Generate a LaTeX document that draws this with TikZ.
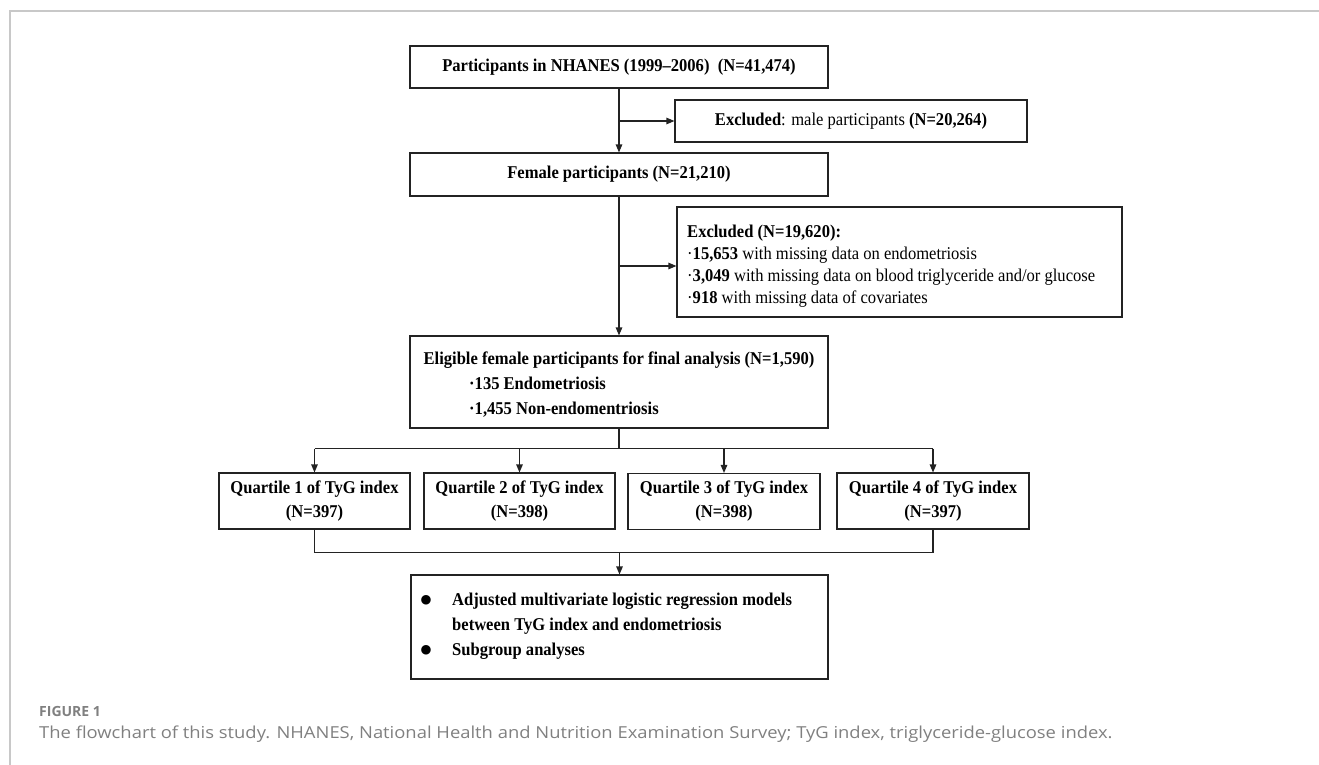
\documentclass[tikz,border=0pt]{standalone}
\usepackage{fontspec}
\setmainfont{Liberation Serif}[FakeStretch=0.92]
\newfontfamily\capfont{Open Sans}[FakeStretch=1.115]
\newfontfamily\figfont{Open Sans}
\newfontfamily\symfont{DejaVu Sans}
\usetikzlibrary{arrows.meta}
\definecolor{ln}{RGB}{35,35,35}
\definecolor{framegray}{RGB}{200,200,200}
\definecolor{capgray}{RGB}{128,128,128}
\begin{document}
\begin{tikzpicture}[x=1pt,y=-1pt,
  box/.style={draw=ln, line width=1.1pt, inner sep=0pt, fill=white},
  bt/.style={inner sep=0pt, font=\fontsize{18}{24}\selectfont\bfseries},
  rt/.style={inner sep=0pt, anchor=base west, font=\fontsize{18}{22}\selectfont},
  con/.style={draw=ln, line width=1.1pt},
  arr/.style={con, -{Triangle[length=8pt,width=6.5pt]}},
  bul/.style={inner sep=0pt, font=\fontsize{12.5}{12.5}\selectfont\symfont},
  capt/.style={inner sep=0pt, anchor=base west, text=capgray}
]
\useasboundingbox (0,0) rectangle (1319,765);
\draw[framegray, line width=1.5pt] (1319,11) -- (10,11) -- (10,765);

% boxes
\node[box, bt, minimum width=418pt, minimum height=42pt] (b1) at (619,67)
  {Participants in NHANES (1999–2006)\ \ (N=41,474)};
\node[box, minimum width=352pt, minimum height=42pt, font=\fontsize{18}{20}\selectfont] (ex1) at (851,121)
  {\textbf{Excluded}: male participants \textbf{(N=20,264)}};
\node[box, bt, minimum width=418pt, minimum height=43pt] (b2) at (619,174.5)
  {Female participants (N=21,210)};
\node[box, minimum width=445pt, minimum height=110pt] (ex2) at (899.5,262) {};
\node[rt, font=\fontsize{18}{22}\selectfont\bfseries] (ex2a) at (687,237) {Excluded (N=19,620):};
\node[rt] (ex2b) at (687,259) {·\textbf{15,653} with missing data on endometriosis};
\node[rt] (ex2c) at (687,281) {·\textbf{3,049} with missing data on blood triglyceride and/or glucose};
\node[rt] (ex2d) at (687,303) {·\textbf{918} with missing data of covariates};

\node[box, minimum width=418pt, minimum height=92pt] (b3) at (619,382) {};
\node[bt, anchor=base] (b3a) at (619,364) {Eligible female participants for final analysis (N=1,590)};
\node[bt, anchor=base west] (b3b) at (469,389) {·135 Endometriosis};
\node[bt, anchor=base west] (b3c) at (469,414) {·1,455 Non-endomentriosis};

\node[box, bt, align=center, minimum width=191pt, minimum height=56pt] (q1) at (314.5,501)
  {Quartile 1 of TyG index\\(N=397)};
\node[box, bt, align=center, minimum width=191pt, minimum height=56pt] (q2) at (519.5,501)
  {Quartile 2 of TyG index\\(N=398)};
\node[box, bt, align=center, minimum width=192pt, minimum height=56pt] (q3) at (724,501.5)
  {Quartile 3 of TyG index\\(N=398)};
\node[box, bt, align=center, minimum width=192pt, minimum height=56pt] (q4) at (933,501)
  {Quartile 4 of TyG index\\(N=397)};

\node[box, minimum width=417pt, minimum height=104pt] (b4) at (619.5,627) {};
\node[bul] (bu1) at (426,600) {●};
\node[bul] (bu2) at (426,650) {●};
\node[bt, anchor=base west] (b4a) at (452,605) {Adjusted multivariate logistic regression models};
\node[bt, anchor=base west] (b4b) at (452,630) {between TyG index and endometriosis};
\node[bt, anchor=base west] (b4c) at (452,655) {Subgroup analyses};

% connectors
\draw[arr] (b1.south) -- (b2.north);
\draw[arr] (ex1.west -| b1.south) -- (ex1.west);
\draw[arr] (b2.south) -- (b3.north);
\draw[arr] ([yshift=-4pt]ex2.west -| b2.south) -- ([yshift=-4pt]ex2.west);

\draw[con] (b3.south) -- ++(0,20) coordinate (br);
\draw[con] (br -| q1.north) -- (br -| q4.north);
\draw[arr] (br -| q1.north) -- (q1.north);
\draw[arr] (br -| q2.north) -- (q2.north);
\draw[arr] (br -| q3.north) -- (q3.north);
\draw[arr] (br -| q4.north) -- (q4.north);

\draw[con] (q1.south) -- ++(0,23) coordinate (mg1);
\draw[con] (q4.south) -- (q4.south |- mg1);
\draw[con] (mg1) -- (q4.south |- mg1);
\draw[arr] (mg1 -| b4.north) -- (b4.north);

% caption
\node[capt, font=\fontsize{14}{16}\selectfont\figfont\bfseries] (fig) at (39,716) {FIGURE 1};
\node[capt, font=\fontsize{16.5}{18}\selectfont\capfont] (cap) at (39,738)
  {The flowchart of this study. NHANES, National Health and Nutrition Examination Survey; TyG index, triglyceride-glucose index.};
\end{tikzpicture}
\end{document}
